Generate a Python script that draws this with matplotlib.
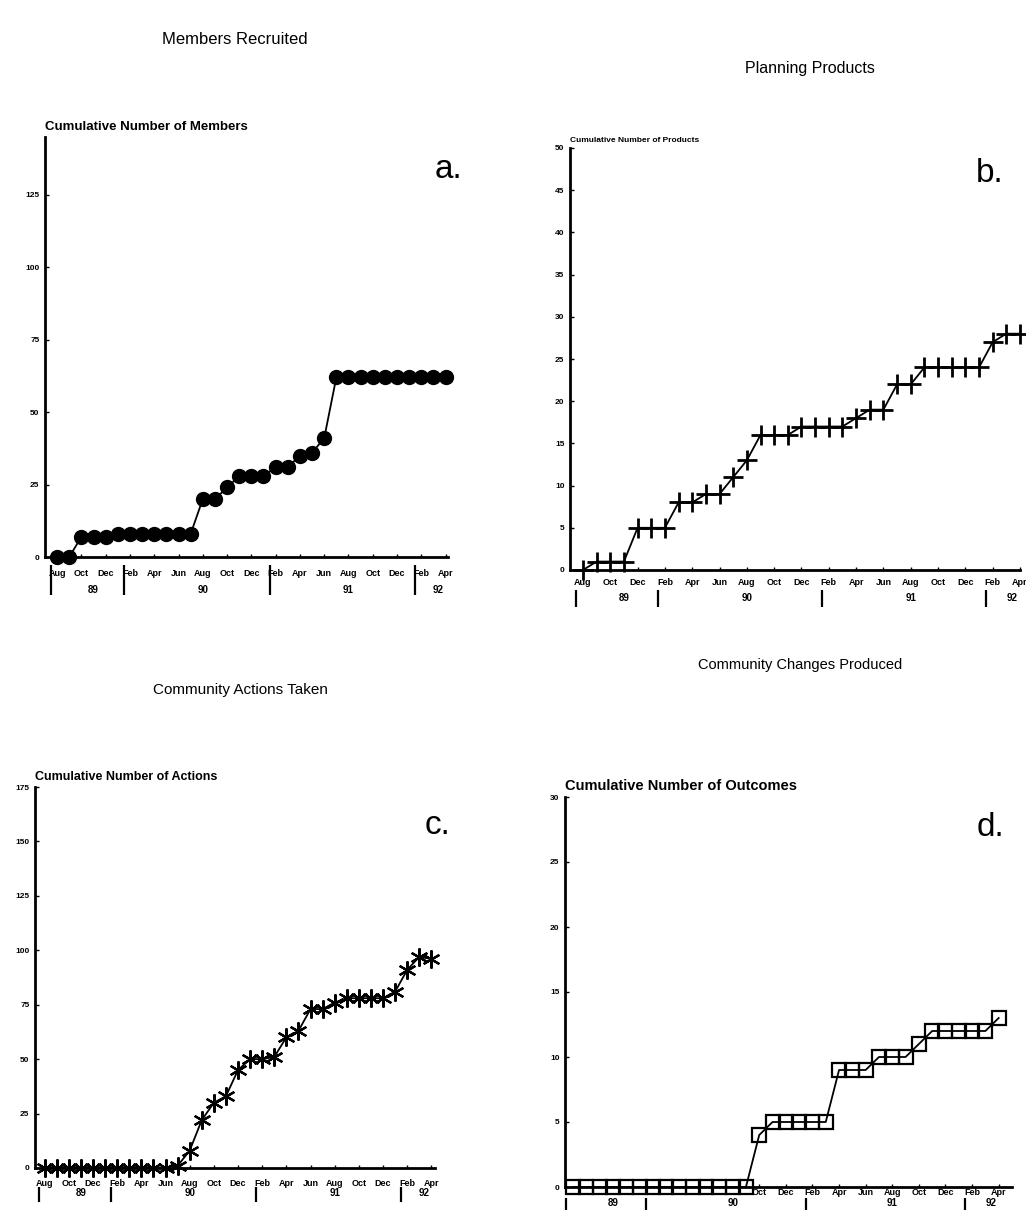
import numpy as np
import matplotlib.pyplot as plt

plt.rcParams['font.family'] = ['Liberation Sans', 'DejaVu Sans']

# months Aug 1989 .. Apr 1992
month_names = ['Aug', 'Sep', 'Oct', 'Nov', 'Dec',
               'Jan', 'Feb', 'Mar', 'Apr', 'May', 'Jun', 'Jul', 'Aug', 'Sep', 'Oct', 'Nov', 'Dec',
               'Jan', 'Feb', 'Mar', 'Apr', 'May', 'Jun', 'Jul', 'Aug', 'Sep', 'Oct', 'Nov', 'Dec',
               'Jan', 'Feb', 'Mar', 'Apr']
months = np.arange(len(month_names))

members = [0, 0, 7, 7, 7, 8, 8, 8, 8, 8, 8, 8,
           20, 20, 24, 28, 28, 28, 31, 31, 35, 36, 41,
           62, 62, 62, 62, 62, 62, 62, 62, 62, 62]
products = [0, 1, 1, 1, 5, 5, 5, 8, 8, 9, 9, 11, 13, 16, 16, 16,
            17, 17, 17, 17, 18, 19, 19, 22, 22, 24, 24, 24, 24, 24, 27, 28, 28]
actions = [0, 0, 0, 0, 0, 0, 0, 0, 0, 0, 0, 1, 8, 22, 30, 33, 45, 50, 50, 51,
           60, 63, 73, 73, 76, 78, 78, 78, 78, 81, 91, 97, 96]
outcomes = [0, 0, 0, 0, 0, 0, 0, 0, 0, 0, 0, 0, 0, 0, 4, 5, 5, 5, 5, 5,
            9, 9, 9, 10, 10, 10, 11, 12, 12, 12, 12, 12, 13]

year_labels = ['89', '90', '91', '92']
year_label_pos = [3, 12, 24, 31.4]
year_breaks = [-0.5, 5.5, 17.5, 29.5]

W, H = 1026, 1211
fig = plt.figure(figsize=(W / 100, H / 100), dpi=100)


def px(l, t, r, b):
    return [l / W, 1 - b / H, (r - l) / W, (b - t) / H]


# month pad, year label offset, break span (all pixels below the x axis)
panels = [
    dict(vals=members, box=px(45, 137, 448, 557), ylim=145, yt=np.arange(0, 126, 25),
         xlim=(-1, 32.2), mk=dict(marker='o', ms=10, mfc='black', mec='black'),
         ylab='Cumulative Number of Members', ylab_fs=9.5, first=0,
         mpad=9, yoff=33, brk=(8, 38),
         title='Members Recruited', tfs=12, tpos=(235, 40), letter='a.', lpos=(448, 170)),
    dict(vals=products, box=px(570, 148, 1020, 570), ylim=50, yt=np.arange(0, 51, 5),
         xlim=(-0.95, 32.0), mk=dict(marker='+', ms=15, mew=2, mec='black'),
         ylab='Cumulative Number of Products', ylab_fs=6, first=0,
         mpad=6, yoff=28, brk=(20, 37),
         title='Planning Products', tfs=11.5, tpos=(810, 68), letter='b.', lpos=(990, 174)),
    dict(vals=actions, box=px(35, 787, 435, 1168), ylim=175, yt=np.arange(0, 176, 25),
         xlim=(-0.8, 32.3), mk=dict(marker=(6, 2, 0), ms=13, mew=1.6, mec='black'),
         ylab='Cumulative Number of Actions', ylab_fs=9, first=0,
         mpad=8, yoff=25, brk=(19, 34),
         title='Community Actions Taken', tfs=11, tpos=(240, 690), letter='c.', lpos=(438, 825)),
    dict(vals=outcomes, box=px(565, 797, 1012, 1187), ylim=30, yt=np.arange(0, 31, 5),
         xlim=(-0.6, 33.0), mk=dict(marker='s', ms=10, mfc='none', mew=1.6, mec='black'),
         ylab='Cumulative Number of Outcomes', ylab_fs=10.5, first=14,
         mpad=1, yoff=16, brk=(11, 23),
         title='Community Changes Produced', tfs=10.5, tpos=(800, 665), letter='d.',
         lpos=(990, 827)),
]

for p in panels:
    ax = fig.add_axes(p['box'])
    hpx = p['box'][3] * H
    ax.plot(months, p['vals'], color='black', lw=1.3, clip_on=False, **p['mk'])
    ax.set_xlim(*p['xlim'])
    ax.set_ylim(0, p['ylim'])
    for s in ['top', 'right']:
        ax.spines[s].set_visible(False)
    for s in ['left', 'bottom']:
        ax.spines[s].set_linewidth(2)
    ax.set_yticks(p['yt'])
    ax.set_yticklabels([str(v) for v in p['yt']], fontsize=6, fontweight='bold')
    tpos = months[p['first']::2]
    ax.set_xticks(tpos)
    ax.set_xticklabels([month_names[i] for i in tpos], fontsize=6.5, fontweight='bold')
    ax.tick_params(axis='y', direction='in', length=3, width=1, pad=4)
    ax.tick_params(axis='x', direction='in', length=2, width=1, pad=p['mpad'])
    trans = ax.get_xaxis_transform()
    for yl, xp in zip(year_labels, year_label_pos):
        ax.text(xp, -p['yoff'] / hpx, yl, transform=trans, ha='center', va='center',
                fontsize=7, fontweight='bold')
    ax.vlines(year_breaks, -p['brk'][1] / hpx, -p['brk'][0] / hpx, transform=trans,
              color='black', lw=1.6, clip_on=False)
    ax.text(0.0, 1.01, p['ylab'], transform=ax.transAxes, ha='left', va='bottom',
            fontsize=p['ylab_fs'], fontweight='bold')
    fig.text(p['tpos'][0] / W, 1 - p['tpos'][1] / H, p['title'], ha='center',
             va='center', fontsize=p['tfs'])
    fig.text(p['lpos'][0] / W, 1 - p['lpos'][1] / H, p['letter'], ha='center',
             va='center', fontsize=24)

fig.savefig('out.png', dpi=100)
